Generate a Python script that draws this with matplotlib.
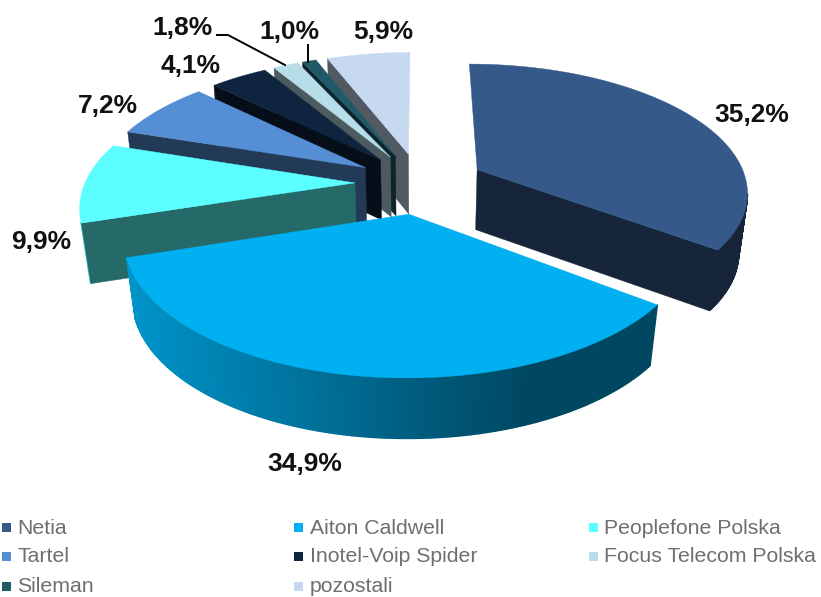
import numpy as np
import matplotlib
matplotlib.use('Agg')
import matplotlib.pyplot as plt
from matplotlib.patches import Polygon, Rectangle

# ── Data ──────────────────────────────────────────────────────
names = ['Netia', 'Aiton Caldwell', 'Peoplefone Polska', 'Tartel',
         'Inotel-Voip Spider', 'Focus Telecom Polska', 'Sileman', 'pozostali']
values = [35.2, 34.9, 9.9, 7.2, 4.1, 1.8, 1.0, 5.9]
labels = ['35,2%', '34,9%', '9,9%', '7,2%', '4,1%', '1,8%', '1,0%', '5,9%']
colors = ['#355A8A', '#00B0F0', '#5CFFFF', '#558ED5',
          '#0F243E', '#B7DDE8', '#215968', '#C6D9F1']

# ── Layout (pixels) ───────────────────────────────────────────
W, H = 821, 597
CX, CY = 420, 183      # pie centre on screen
R0 = 270               # radius
EXPLODE = 65
THICK = 61
TILT = 0.468           # squash of the ground plane
PERSP = 0.16           # depth scaling front/back
PERSP_Z = 0.00045
WALL_MAX_DEG = 252.5   # outer wall is not seen past this angle
MIN_FACE_PX = 12       # radial faces narrower than this are left out

label_pos = [(752, 115), (305, 464), (41, 242), (108, 106),
             (191, 66), (182, 28), (289, 32), (383, 32)]
legend_x = [3, 295, 590]
legend_y = [528, 557, 587]
draw_order = [7, 6, 5, 4, 3, 2, 0, 1]


def project(x, y, z=0.0):
    """Ground coords (x right, y away, z up) to screen pixels."""
    s = 1.0 / (1.0 + PERSP * y / R0 - PERSP_Z * z)
    return CX + s * x, CY - s * TILT * y - s ** 0.5 * z


def shade(hex_color, factor):
    rgb = np.array(matplotlib.colors.to_rgb(hex_color))
    return tuple(rgb * factor)


def wall_factor(px):
    return np.interp(px, [127, 525], [0.84, 0.41])


def signed_area(pts):
    p = np.array(pts)
    q = np.roll(p, -1, axis=0)
    return np.sum(p[:, 0] * q[:, 1] - q[:, 0] * p[:, 1])


def draw_slice(ax, start, end, color):
    mid = (start + end) / 2
    ox = EXPLODE * np.sin(mid)
    oy = EXPLODE * np.cos(mid)

    th = np.linspace(start, end, max(int(np.degrees(end - start)) * 2, 8))
    rim_x = ox + R0 * np.sin(th)
    rim_y = oy + R0 * np.cos(th)

    # outer wall, strip by strip for the gradient (only the strips facing us)
    for i in range(len(th) - 1):
        pts = [project(rim_x[i], rim_y[i], 0),
               project(rim_x[i + 1], rim_y[i + 1], 0),
               project(rim_x[i + 1], rim_y[i + 1], -THICK),
               project(rim_x[i], rim_y[i], -THICK)]
        if pts[1][0] >= pts[0][0] or np.degrees(th[i]) > WALL_MAX_DEG:
            continue
        c = shade(color, wall_factor(pts[0][0]))
        ax.add_patch(Polygon(pts, closed=True, fc=c, ec=c, lw=1.0))

    # radial faces, start face shows when the area is negative, end when positive
    for edge, sign in ((start, -1), (end, 1)):
        ex = ox + R0 * np.sin(edge)
        ey = oy + R0 * np.cos(edge)
        pts = [project(ox, oy, 0), project(ex, ey, 0),
               project(ex, ey, -THICK), project(ox, oy, -THICK)]
        wide = abs(pts[1][0] - pts[0][0]) > MIN_FACE_PX
        if signed_area(pts) * sign > 0 and wide:
            ax.add_patch(Polygon(pts, closed=True, fc=shade(color, 0.41),
                                 ec=shade(color, 0.41), lw=0.3))

    # top face
    top = [project(ox, oy, 0)] + [project(a, b, 0) for a, b in zip(rim_x, rim_y)]
    ax.add_patch(Polygon(top, closed=True, fc=color, ec=color, lw=0.3))


fig = plt.figure(figsize=(W / 100, H / 100), dpi=100, facecolor='white')
ax = fig.add_axes([0, 0, 1, 1])
ax.set_xlim(0, W)
ax.set_ylim(H, 0)
ax.axis('off')

# ── Slices ────────────────────────────────────────────────────
edges = np.concatenate([[0], np.cumsum(values)]) / np.sum(values) * 2 * np.pi
for idx in draw_order:
    draw_slice(ax, edges[idx], edges[idx + 1], colors[idx])

# ── Data labels and leader lines ──────────────────────────────
for lab, (lx, ly) in zip(labels, label_pos):
    ax.text(lx, ly, lab, ha='center', va='center', fontsize=19,
            fontweight='bold', family='Liberation Sans', color='#111111')
ax.plot([217, 228, 285], [35, 35, 65], color='black', lw=1.4)
ax.plot([308, 308], [45, 62], color='black', lw=1.4)

# ── Legend ────────────────────────────────────────────────────
for i, (name, color) in enumerate(zip(names, colors)):
    row, col = i // 3, i % 3
    ax.add_patch(Rectangle((legend_x[col] - 1, legend_y[row] - 5), 9, 9,
                           fc=color, ec='none'))
    ax.text(legend_x[col] + 14.5, legend_y[row], name, ha='left', va='center',
            fontsize=15.3, family='Liberation Sans', color='#6F6F6F')

fig.savefig('out.png', dpi=100, facecolor='white')
